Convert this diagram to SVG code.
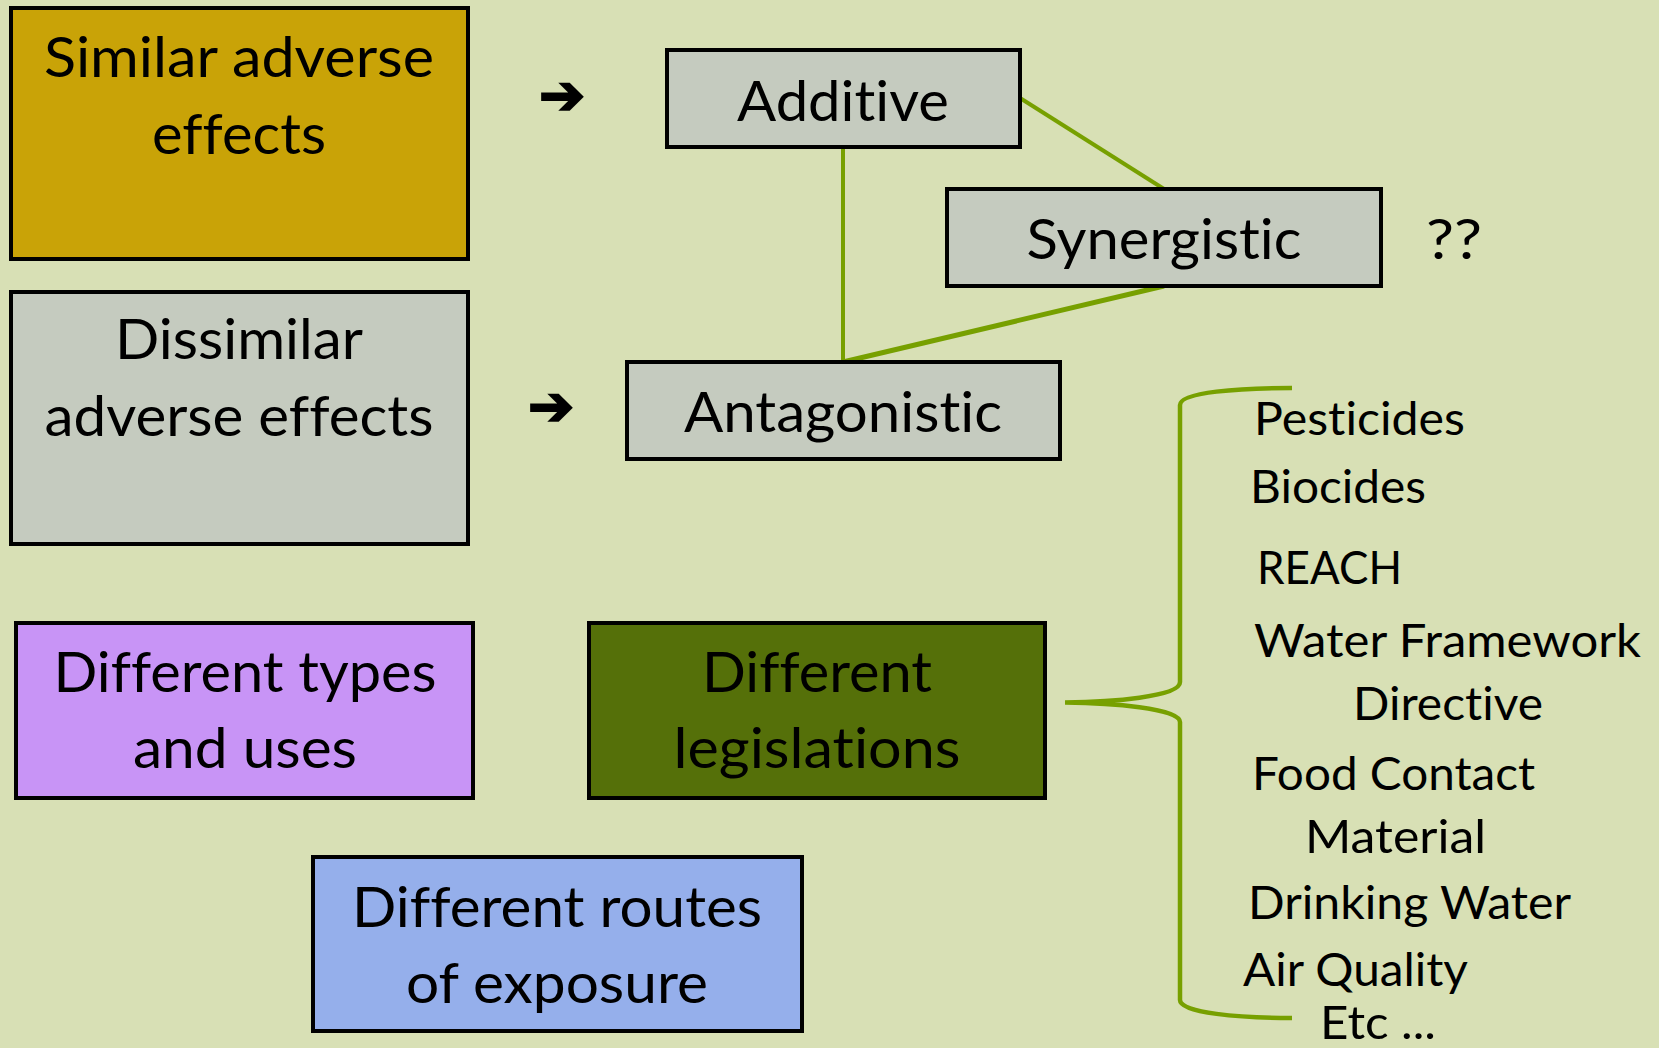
<svg xmlns="http://www.w3.org/2000/svg" width="1659" height="1048" viewBox="0 0 1659 1048">
<style>
.box{stroke:#000;stroke-width:4}
.t{font-family:Lato,"Open Sans","Liberation Sans",sans-serif;font-size:57px;fill:#000;text-anchor:middle;font-variant-ligatures:none}
.l{font-family:Lato,"Open Sans","Liberation Sans",sans-serif;font-size:47px;fill:#000;font-variant-ligatures:none}
.arr{font-family:"DejaVu Sans",sans-serif;font-size:55px;fill:#000;stroke:#000;stroke-width:2;stroke-linejoin:miter}
.con{stroke:#77A000;fill:none;stroke-linecap:butt}
</style>
<rect width="1659" height="1048" fill="#D8E0B5"/>
<g id="connectors">
<line class="con" x1="1020" y1="98" x2="1164" y2="189" stroke-width="4"/>
<line class="con" x1="843" y1="147" x2="843" y2="362" stroke-width="4"/>
<line class="con" x1="1164" y1="286" x2="843" y2="362" stroke-width="5"/>
<path class="con" stroke-width="4.5" d="M1292,388 C1240,388 1180,392 1180,405 L1180,682 C1180,697 1110,702 1065,702.5 C1110,703 1180,708 1180,722 L1180,1000 C1180,1013 1240,1018 1292,1018"/>
</g>
<g id="similar">
<rect class="box" x="11" y="8" width="457" height="251" fill="#C9A307"/>
<text class="t" x="239" y="77" textLength="390" lengthAdjust="spacingAndGlyphs">Similar adverse</text>
<text class="t" x="239" y="154" textLength="174" lengthAdjust="spacingAndGlyphs">effects</text>
</g>
<g id="dissimilar">
<rect class="box" x="11" y="292" width="457" height="252" fill="#C5CBBF"/>
<text class="t" x="239" y="359" textLength="248" lengthAdjust="spacingAndGlyphs">Dissimilar</text>
<text class="t" x="239" y="436" textLength="389" lengthAdjust="spacingAndGlyphs">adverse effects</text>
</g>
<g id="arrow1"><text class="arr" x="539" y="114">➔</text></g>
<g id="arrow2"><text class="arr" x="528" y="425">➔</text></g>
<g id="additive">
<rect class="box" x="667" y="50" width="353" height="97" fill="#C5CBBF"/>
<text class="t" x="843" y="121" textLength="212" lengthAdjust="spacingAndGlyphs">Additive</text>
</g>
<g id="synergistic">
<rect class="box" x="947" y="189" width="434" height="97" fill="#C5CBBF"/>
<text class="t" x="1164" y="259" textLength="275" lengthAdjust="spacingAndGlyphs">Synergistic</text>
</g>
<g id="qq"><text class="t" x="1454" y="259" textLength="56" lengthAdjust="spacingAndGlyphs">??</text></g>
<g id="antagonistic">
<rect class="box" x="627" y="362" width="433" height="97" fill="#C5CBBF"/>
<text class="t" x="843" y="432" textLength="318" lengthAdjust="spacingAndGlyphs">Antagonistic</text>
</g>
<g id="types">
<rect class="box" x="16" y="623" width="457" height="175" fill="#C894F6"/>
<text class="t" x="245" y="692" textLength="383" lengthAdjust="spacingAndGlyphs">Different types</text>
<text class="t" x="245" y="768" textLength="224" lengthAdjust="spacingAndGlyphs">and uses</text>
</g>
<g id="legislations">
<rect class="box" x="589" y="623" width="456" height="175" fill="#557009"/>
<text class="t" x="817" y="692" textLength="230" lengthAdjust="spacingAndGlyphs">Different</text>
<text class="t" x="817" y="768" textLength="287" lengthAdjust="spacingAndGlyphs">legislations</text>
</g>
<g id="routes">
<rect class="box" x="313" y="857" width="489" height="174" fill="#95AFEB"/>
<text class="t" x="557" y="927" textLength="410" lengthAdjust="spacingAndGlyphs">Different routes</text>
<text class="t" x="557" y="1003" textLength="302" lengthAdjust="spacingAndGlyphs">of exposure</text>
</g>
<g id="list">
<text class="l" x="1254" y="435" textLength="211" lengthAdjust="spacingAndGlyphs">Pesticides</text>
<text class="l" x="1250" y="503" textLength="176" lengthAdjust="spacingAndGlyphs">Biocides</text>
<text class="l" x="1257" y="584" textLength="145" lengthAdjust="spacingAndGlyphs">REACH</text>
<text class="l" x="1254" y="657" textLength="387" lengthAdjust="spacingAndGlyphs">Water Framework</text>
<text class="l" x="1353" y="720" textLength="190" lengthAdjust="spacingAndGlyphs">Directive</text>
<text class="l" x="1252" y="790" textLength="283" lengthAdjust="spacingAndGlyphs">Food Contact</text>
<text class="l" x="1305" y="853" textLength="181" lengthAdjust="spacingAndGlyphs">Material</text>
<text class="l" x="1248" y="919" textLength="323" lengthAdjust="spacingAndGlyphs">Drinking Water</text>
<text class="l" x="1243" y="986" textLength="225" lengthAdjust="spacingAndGlyphs">Air Quality</text>
<text class="l" x="1320" y="1039" font-size="43" textLength="116" lengthAdjust="spacingAndGlyphs">Etc ...</text>
</g>
</svg>
